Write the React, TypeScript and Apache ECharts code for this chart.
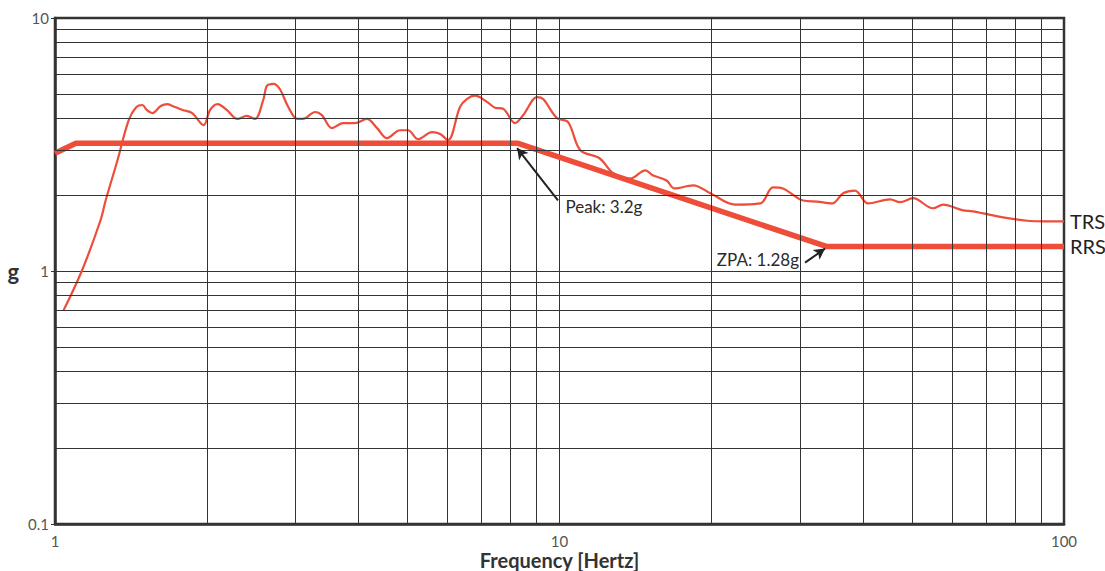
import React, { useEffect, useRef } from "react";
import * as echarts from "echarts";

// Test Response Spectrum (TRS) – thin curve
const trsFreq = [1.04, 1.13, 1.23, 1.26, 1.33, 1.40, 1.45, 1.49, 1.52, 1.56, 1.62, 1.67, 1.71, 1.79, 1.87, 1.97, 2.03, 2.10, 2.19, 2.30, 2.40, 2.49, 2.59, 2.63, 2.71, 2.79, 2.90, 3.02, 3.10, 3.28, 3.38, 3.54, 3.72, 3.93, 4.15, 4.35, 4.55, 4.83, 5.01, 5.24, 5.59, 5.80, 6.01, 6.35, 6.56, 6.80, 7.18, 7.45, 7.73, 8.16, 8.47, 9.03, 9.28, 9.89, 10.4, 11.0, 12.0, 12.8, 13.8, 14.8, 15.3, 16.3, 16.9, 18.4, 19.9, 22.3, 25.0, 26.5, 27.7, 30.4, 32.4, 34.7, 36.5, 38.5, 40.9, 45.2, 47.3, 50.2, 55.0, 57.6, 62.8, 66.0, 69.1, 75.7, 84.5, 90.9, 100];
const trsG = [0.70, 1.00, 1.58, 1.90, 2.74, 3.95, 4.45, 4.53, 4.33, 4.21, 4.49, 4.57, 4.49, 4.33, 4.21, 3.77, 4.33, 4.57, 4.33, 3.99, 4.10, 3.99, 4.78, 5.39, 5.49, 5.24, 4.45, 3.99, 3.99, 4.25, 4.13, 3.67, 3.84, 3.84, 3.99, 3.67, 3.35, 3.60, 3.60, 3.32, 3.54, 3.48, 3.29, 4.45, 4.79, 4.93, 4.66, 4.42, 4.38, 3.84, 4.13, 4.87, 4.78, 4.02, 3.88, 3.00, 2.79, 2.43, 2.32, 2.50, 2.39, 2.28, 2.12, 2.18, 2.03, 1.83, 1.85, 2.14, 2.12, 1.90, 1.88, 1.85, 2.03, 2.08, 1.85, 1.92, 1.87, 1.94, 1.77, 1.83, 1.74, 1.72, 1.69, 1.63, 1.58, 1.57, 1.57];

// Required Response Spectrum (RRS) – thick envelope
const rrsFreq = [1, 1.1, 8.25, 33.8, 100];
const rrsG = [2.92, 3.2, 3.2, 1.25, 1.25];

// Minor grid lines (log decades)
const xMinor = [2, 3, 4, 5, 6, 7, 8, 9, 20, 30, 40, 50, 60, 70, 80, 90];
const yMinor = [0.2, 0.3, 0.4, 0.5, 0.6, 0.7, 0.8, 0.9, 2, 3, 4, 5, 6, 7, 8, 9];

// Annotations: text anchor, arrow start, arrow end (data coordinates)
const peakLabel = "Peak: 3.2g";
const peakText = [10.25, 1.8];
const peakArrow = [[9.93, 1.9], [8.24, 3.06]];
const zpaLabel = "ZPA: 1.28g";
const zpaText = [29.9, 1.109];
const zpaArrow = [[30.67, 1.079], [33.6, 1.226]];

const RED = "#EE4D3A";
const FONT = "Lato, 'Noto Sans', sans-serif";

export default function App() {
  const ref = useRef<HTMLDivElement>(null);
  useEffect(() => {
    if (!ref.current) return;
    const chart = echarts.init(ref.current, undefined, { renderer: "svg" });
    const trs = trsFreq.map((f, i) => [f, trsG[i]]);
    const rrs = rrsFreq.map((f, i) => [f, rrsG[i]]);
    const annLabel = {
      show: true,
      distance: 0,
      color: "#2a2a2a",
      fontSize: 17,
      fontFamily: FONT,
    };
    chart.setOption({
      animation: false,
      backgroundColor: "#ffffff",
      textStyle: { fontFamily: FONT },
      grid: {
        left: 55,
        right: 41,
        top: 18,
        bottom: 47,
        show: true,
        borderColor: "#333",
        borderWidth: 2.5,
        containLabel: false,
        outerBoundsMode: "none",
      },
      xAxis: {
        type: "log",
        logBase: 10,
        min: 1,
        max: 100,
        name: "Frequency [Hertz]",
        nameLocation: "middle",
        nameGap: 26,
        nameMoveOverlap: false,
        nameTextStyle: { fontFamily: FONT, fontWeight: "bold", fontSize: 20, color: "#333" },
        axisLine: { show: true, lineStyle: { color: "#333", width: 2.5 } },
        axisTick: { show: false },
        axisLabel: { color: "#555", fontSize: 15, margin: 9, fontFamily: FONT },
        splitLine: { show: true, lineStyle: { color: "#333", width: 1 } },
      },
      yAxis: {
        type: "log",
        logBase: 10,
        min: 0.1,
        max: 10,
        name: "g",
        nameLocation: "middle",
        nameRotate: 0,
        nameGap: 36,
        nameMoveOverlap: false,
        nameTextStyle: { fontFamily: FONT, fontWeight: "bold", fontSize: 22, color: "#333", padding: [0, 0, 8, 0] },
        axisLine: { show: true, lineStyle: { color: "#333", width: 2.5 } },
        axisTick: { show: true, length: 4, lineStyle: { color: "#333", width: 1 } },
        axisLabel: {
          color: "#555",
          fontSize: 15,
          margin: 6,
          fontFamily: FONT,
          formatter: (v: number) => (v < 1 ? v.toFixed(1) : String(Math.round(v))),
        },
        splitLine: { show: true, lineStyle: { color: "#333", width: 1 } },
      },
      series: [
        {
          name: "grid",
          type: "line",
          data: [],
          z: 1,
          silent: true,
          markLine: {
            silent: true,
            animation: false,
            symbol: ["none", "none"],
            label: { show: false },
            lineStyle: { color: "#333", width: 1, type: "solid" },
            data: [
              ...xMinor.map((v) => ({ xAxis: v })),
              ...yMinor.map((v) => ({ yAxis: v })),
            ],
          },
        },
        {
          name: "TRS",
          type: "line",
          data: trs,
          z: 3,
          smooth: 0.35,
          showSymbol: false,
          lineStyle: { color: RED, width: 2.2 },
          endLabel: {
            show: true,
            formatter: "TRS",
            distance: 6,
            color: "#222",
            fontSize: 20,
            fontFamily: FONT,
          },
        },
        {
          name: "RRS",
          type: "line",
          data: rrs,
          z: 4,
          showSymbol: false,
          lineStyle: { color: RED, width: 5.5 },
          endLabel: {
            show: true,
            formatter: "RRS",
            distance: 6,
            color: "#222",
            fontSize: 20,
            fontFamily: FONT,
          },
        },
        {
          name: "annotations",
          type: "line",
          data: [],
          z: 5,
          silent: true,
          markLine: {
            silent: true,
            animation: false,
            symbol: ["none", "arrow"],
            symbolSize: [9, 11],
            label: { show: false },
            lineStyle: { color: "#222", width: 2, type: "solid" },
            data: [
              [{ coord: peakArrow[0] }, { coord: peakArrow[1] }],
              [{ coord: zpaArrow[0] }, { coord: zpaArrow[1] }],
            ],
          },
          markPoint: {
            silent: true,
            animation: false,
            symbol: "circle",
            symbolSize: 1,
            itemStyle: { color: "rgba(0,0,0,0)" },
            data: [
              {
                coord: peakText,
                label: { ...annLabel, position: "right", formatter: peakLabel },
              },
              {
                coord: zpaText,
                label: { ...annLabel, position: "left", formatter: zpaLabel },
              },
            ],
          },
        },
      ],
    });
    return () => chart.dispose();
  }, []);
  return (
    <div
      ref={ref}
      style={{ position: "fixed", left: 0, top: 0, width: 1105, height: 571 }}
    />
  );
}
